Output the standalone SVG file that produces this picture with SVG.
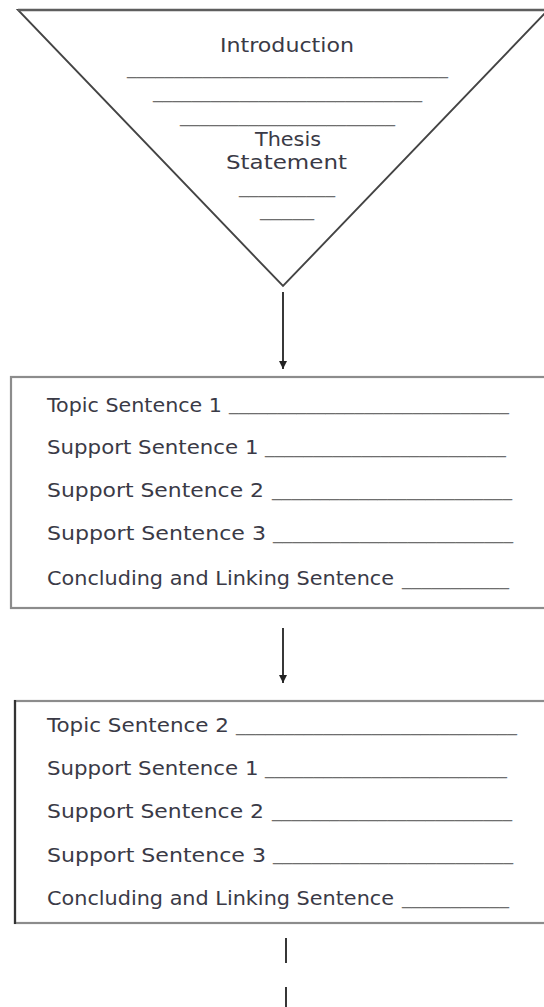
<svg xmlns="http://www.w3.org/2000/svg" width="544" height="1007" viewBox="0 0 544 1007">
<style>
.lbl{font-family:"DejaVu Sans","Liberation Sans",sans-serif;font-size:19.5px;fill:#3a3a46}
.blank{font-family:"DejaVu Sans","Liberation Sans",sans-serif;font-size:18px;fill:#6e6e6e}
.mid{text-anchor:middle}
.conn{stroke:#222;stroke-width:1.8;fill:none}
</style>
<defs>
<marker id="ah" viewBox="0 0 8 9" refX="8" refY="4.5" markerWidth="8" markerHeight="9" markerUnits="userSpaceOnUse" orient="auto">
<path d="M0,0.5 L8,4.5 L0,8.5 Z" fill="#222"/>
</marker>
</defs>
<rect width="544" height="1007" fill="#fff"/>
<g id="introduction">
<polygon points="18,10 548,10 283,286" fill="#fff" stroke="#444" stroke-width="1.9"/>
<line x1="18" y1="10" x2="544" y2="10" stroke="#5e5e5e" stroke-width="2.4"/>
<text class="lbl mid" x="287" y="52" textLength="134" lengthAdjust="spacingAndGlyphs">Introduction</text>
<text class="blank" x="127" y="74" textLength="321" lengthAdjust="spacingAndGlyphs">__________________________________</text>
<text class="blank" x="153" y="97.5" textLength="269" lengthAdjust="spacingAndGlyphs">____________________________</text>
<text class="blank" x="180" y="121.5" textLength="215" lengthAdjust="spacingAndGlyphs">______________________</text>
<text class="lbl mid" x="288" y="146" textLength="66" lengthAdjust="spacingAndGlyphs">Thesis</text>
<text class="lbl mid" x="286.5" y="169" textLength="121" lengthAdjust="spacingAndGlyphs">Statement</text>
<text class="blank" x="239" y="192.5" textLength="96" lengthAdjust="spacingAndGlyphs">__________</text>
<text class="blank" x="260" y="216" textLength="54" lengthAdjust="spacingAndGlyphs">_____</text>
</g>
<g id="paragraph1">
<rect x="11" y="377" width="560" height="231" fill="none" stroke="#8c8c8c" stroke-width="2.2"/>
<text class="lbl" x="47" y="411.5" textLength="175" lengthAdjust="spacingAndGlyphs">Topic Sentence 1</text>
<text class="blank" x="229" y="410" textLength="280" lengthAdjust="spacingAndGlyphs">_____________________________</text>
<text class="lbl" x="47" y="453.5" textLength="211.5" lengthAdjust="spacingAndGlyphs">Support Sentence 1</text>
<text class="blank" x="265" y="453" textLength="241" lengthAdjust="spacingAndGlyphs">_________________________</text>
<text class="lbl" x="47" y="497" textLength="217" lengthAdjust="spacingAndGlyphs">Support Sentence 2</text>
<text class="blank" x="272" y="496" textLength="240" lengthAdjust="spacingAndGlyphs">_________________________</text>
<text class="lbl" x="47" y="540" textLength="219" lengthAdjust="spacingAndGlyphs">Support Sentence 3</text>
<text class="blank" x="273" y="539" textLength="240" lengthAdjust="spacingAndGlyphs">_________________________</text>
<text class="lbl" x="47" y="585" textLength="347" lengthAdjust="spacingAndGlyphs">Concluding and Linking Sentence</text>
<text class="blank" x="402" y="585" textLength="107" lengthAdjust="spacingAndGlyphs">___________</text>
</g>
<g id="paragraph2">
<rect x="15" y="701" width="560" height="222" fill="none" stroke="#8c8c8c" stroke-width="2.2"/>
<line x1="15" y1="700" x2="15" y2="924" stroke="#333" stroke-width="2.2"/>
<text class="lbl" x="47" y="731.5" textLength="182" lengthAdjust="spacingAndGlyphs">Topic Sentence 2</text>
<text class="blank" x="236" y="731" textLength="281" lengthAdjust="spacingAndGlyphs">_____________________________</text>
<text class="lbl" x="47" y="775" textLength="211.5" lengthAdjust="spacingAndGlyphs">Support Sentence 1</text>
<text class="blank" x="265" y="774" textLength="242" lengthAdjust="spacingAndGlyphs">_________________________</text>
<text class="lbl" x="47" y="818" textLength="217" lengthAdjust="spacingAndGlyphs">Support Sentence 2</text>
<text class="blank" x="272" y="817" textLength="240" lengthAdjust="spacingAndGlyphs">_________________________</text>
<text class="lbl" x="47" y="861.5" textLength="219" lengthAdjust="spacingAndGlyphs">Support Sentence 3</text>
<text class="blank" x="273" y="860" textLength="240" lengthAdjust="spacingAndGlyphs">_________________________</text>
<text class="lbl" x="47" y="905" textLength="347" lengthAdjust="spacingAndGlyphs">Concluding and Linking Sentence</text>
<text class="blank" x="402" y="904" textLength="107" lengthAdjust="spacingAndGlyphs">___________</text>
</g>
<g id="connectors">
<line class="conn" x1="283" y1="292" x2="283" y2="369" marker-end="url(#ah)"/>
<line class="conn" x1="283" y1="628" x2="283" y2="683" marker-end="url(#ah)"/>
<line class="conn" x1="286" y1="938" x2="286" y2="1007" stroke-width="2" stroke-dasharray="25 24"/>
</g>
</svg>
